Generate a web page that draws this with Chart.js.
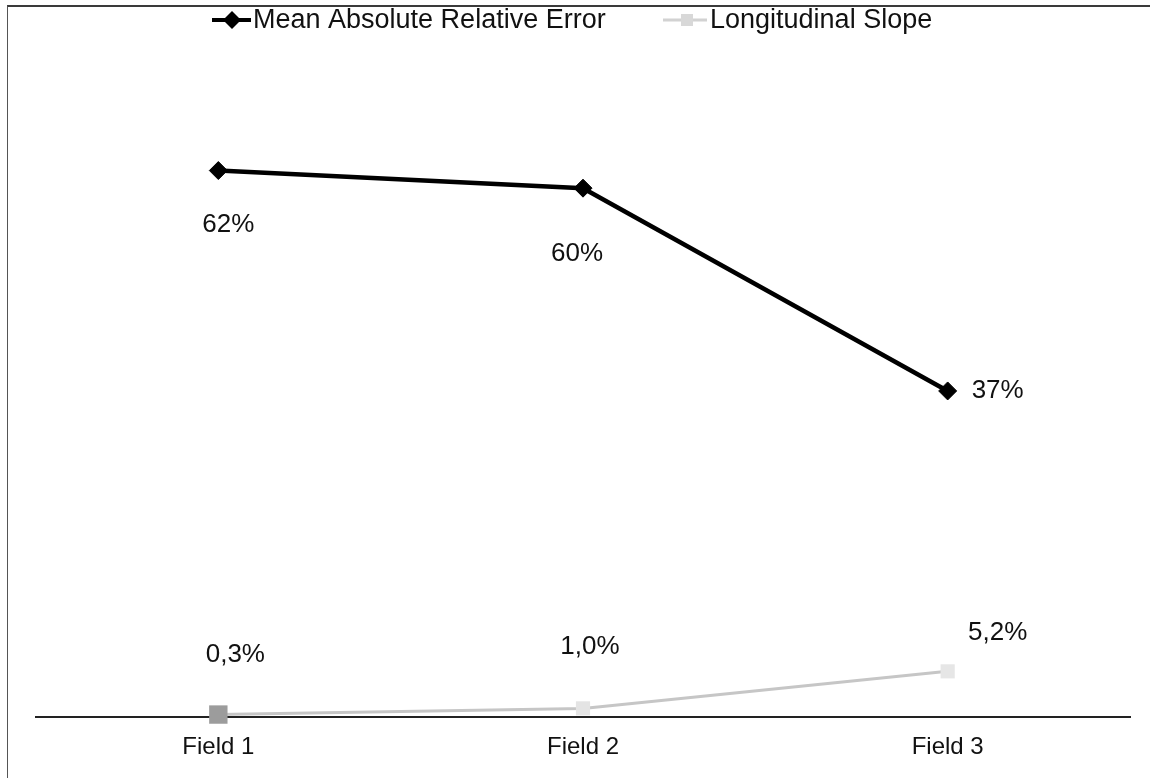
<!DOCTYPE html>
<html>
<head>
<meta charset="utf-8">
<script src="https://cdn.jsdelivr.net/npm/chart.js@4.4.1/dist/chart.umd.min.js"></script>
<style>
  html, body { margin: 0; padding: 0; background: #ffffff; }
  #wrap { position: relative; width: 1150px; height: 778px; overflow: hidden; }
  #frame { position: absolute; left: 7px; top: 5px; right: -2px; bottom: -2px;
           border-top: 2px solid #3a3a3a; border-left: 1px solid #555555; }
  canvas { position: absolute; left: 0; top: 0; }
</style>
</head>
<body>
<div id="wrap">
  <div id="frame"></div>
  <canvas id="chart" width="1150" height="778"></canvas>
</div>
<script>
// Categories and series (values in percent)
const fields = ['Field 1', 'Field 2', 'Field 3'];
const meanAbsRelError = [62, 60, 37];
const longitudinalSlope = [0.3, 1.0, 5.2];
const seriesNames = ['Mean Absolute Relative Error', 'Longitudinal Slope'];

const FONT = '"Liberation Sans", Arial, Helvetica, sans-serif';

// Value label text: whole percent for the error, one decimal (comma) for the slope
const fmtInt = v => Math.round(v) + '%';
const fmtDec = v => v.toFixed(1).replace('.', ',') + '%';

// Label offsets from each point (px), per series
const labelOffsets = [
  [[10, 54], [-6, 66], [50, 0]],
  [[17, -60], [7, -62], [50, -39]]
];

const valueLabels = {
  id: 'valueLabels',
  afterDatasetsDraw(chart) {
    const ctx = chart.ctx;
    ctx.save();
    ctx.font = '26px ' + FONT;
    ctx.fillStyle = '#111111';
    ctx.textAlign = 'center';
    ctx.textBaseline = 'middle';
    chart.data.datasets.forEach((ds, di) => {
      const meta = chart.getDatasetMeta(di);
      meta.data.forEach((pt, i) => {
        const off = labelOffsets[di][i];
        const txt = di === 0 ? fmtInt(ds.data[i]) : fmtDec(ds.data[i]);
        ctx.fillText(txt, pt.x + off[0], pt.y + off[1]);
      });
    });
    ctx.restore();
  }
};

// Legend row drawn at the top: line + marker sample, then series name
const legendRow = {
  id: 'legendRow',
  afterDraw(chart) {
    const ctx = chart.ctx;
    const y = 20;
    ctx.save();
    // first entry: black line with diamond
    ctx.strokeStyle = '#000000';
    ctx.lineWidth = 4;
    ctx.beginPath(); ctx.moveTo(212, y); ctx.lineTo(251, y); ctx.stroke();
    ctx.fillStyle = '#000000';
    ctx.beginPath();
    ctx.moveTo(232, y - 9); ctx.lineTo(241, y); ctx.lineTo(232, y + 9); ctx.lineTo(223, y);
    ctx.closePath(); ctx.fill();
    // second entry: faint grey line with square
    ctx.strokeStyle = '#d2d2d2';
    ctx.lineWidth = 3;
    ctx.beginPath(); ctx.moveTo(663, y); ctx.lineTo(707, y); ctx.stroke();
    ctx.fillStyle = '#d8d8d8';
    ctx.fillRect(681, y - 6, 12, 12);
    // names
    ctx.font = '27px ' + FONT;
    ctx.fillStyle = '#111111';
    ctx.textAlign = 'left';
    ctx.textBaseline = 'middle';
    ctx.fillText(seriesNames[0], 253, y + 1);
    ctx.fillText(seriesNames[1], 710, y + 1);
    ctx.restore();
  }
};

new Chart(document.getElementById('chart'), {
  type: 'line',
  data: {
    labels: fields,
    datasets: [
      {
        label: seriesNames[0],
        data: meanAbsRelError,
        borderColor: '#000000',
        backgroundColor: '#000000',
        borderWidth: 4.5,
        pointStyle: 'rectRot',
        pointRadius: 9,
        pointBackgroundColor: '#000000',
        pointBorderColor: '#000000',
        pointBorderWidth: 1,
        tension: 0,
        clip: false
      },
      {
        label: seriesNames[1],
        data: longitudinalSlope,
        borderColor: '#c6c6c6',
        backgroundColor: '#c6c6c6',
        borderWidth: 3,
        pointStyle: 'rect',
        pointRadius: [13, 10, 10],
        pointBackgroundColor: ['#9c9c9c', '#e4e4e4', '#e6e6e6'],
        pointBorderColor: ['#9c9c9c', '#e4e4e4', '#e6e6e6'],
        pointBorderWidth: 0,
        tension: 0,
        clip: false
      }
    ]
  },
  options: {
    responsive: false,
    animation: false,
    devicePixelRatio: 1,
    layout: { padding: { top: 100, left: 36, right: 20, bottom: 0 } },
    plugins: {
      legend: { display: false },
      tooltip: { enabled: false },
      title: { display: false }
    },
    scales: {
      x: {
        offset: true,
        grid: { color: 'rgba(0,0,0,0)', drawTicks: false },
        border: { display: true, color: '#222222', width: 2 },
        ticks: { color: '#111111', font: { family: FONT, size: 24 }, padding: 16 }
      },
      y: {
        display: false,
        min: 0,
        max: 70
      }
    }
  },
  plugins: [valueLabels, legendRow]
});
</script>
</body>
</html>
